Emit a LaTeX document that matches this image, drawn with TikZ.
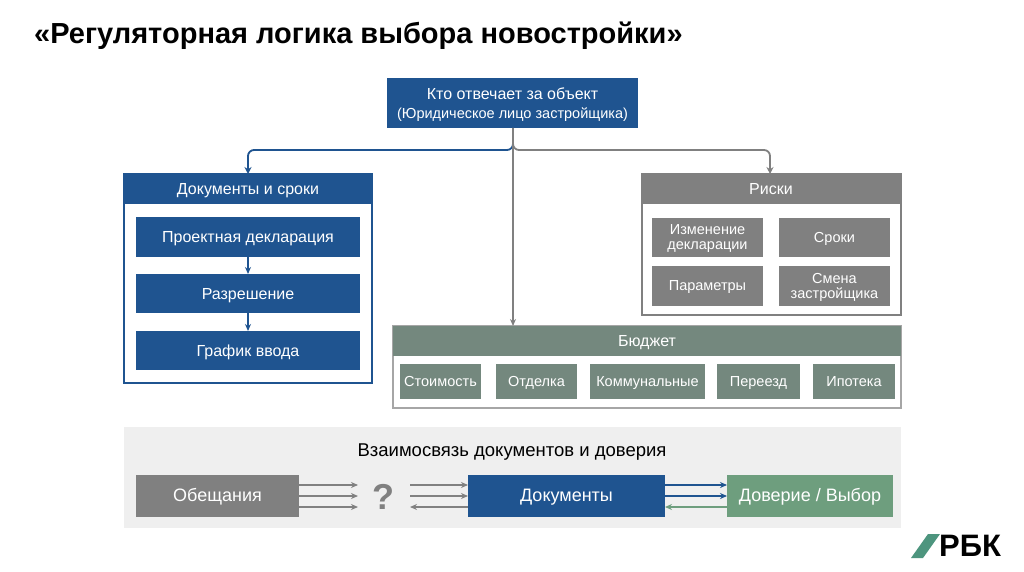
\documentclass[tikz,border=0pt]{standalone}
\usepackage{fontspec}
\setmainfont{Liberation Sans}
\usetikzlibrary{arrows.meta}
\definecolor{dblue}{HTML}{1F5490}
\definecolor{gr}{HTML}{808080}
\definecolor{bud}{HTML}{74887E}
\definecolor{grn}{HTML}{6E9E7E}
\definecolor{lbg}{HTML}{EFEFEF}
\begin{document}
\begin{tikzpicture}[x=1pt,y=-1pt,
 box/.style={draw=none,text=white,align=center,inner sep=0,yshift=-1.5pt,font=\fontsize{16}{18}\selectfont},
 sbox/.style={box,font=\fontsize{14.5}{15}\selectfont},
 arr/.style={-{Stealth[length=7pt,width=7pt]},line width=1.8pt},
 thin/.style={-{Stealth[length=7pt,width=6pt]},line width=1.5pt}]
\useasboundingbox (0,0) rectangle (1024,572);
\fill[white] (0,0) rectangle (1024,572);
\node[anchor=west,inner sep=0,font=\bfseries\fontsize{29}{32}\selectfont] (title) at (34,36) {«Регуляторная логика выбора новостройки»};
% top
\fill[dblue] (387,78) rectangle (638,128);
\node[box] (top) at (512.5,103) {Кто отвечает за объект\\[1pt]{\fontsize{14.5}{15}\selectfont(Юридическое лицо застройщика)}};
\coordinate (tb) at (513,128);
% documents panel
\draw[dblue,line width=1.6pt,fill=white] (124,174) rectangle (372,383);
\fill[dblue] (124,174) rectangle (372,204);
\node[box] (docs) at (248,189) {\strut Документы и сроки};
\fill[dblue] (136,217) rectangle (360,257); \node[box] (d1) at (248,237) {\strut Проектная декларация};
\fill[dblue] (136,274) rectangle (360,313); \node[box] (d2) at (248,294) {\strut Разрешение};
\fill[dblue] (136,331) rectangle (360,370); \node[box] (d3) at (248,351) {\strut График ввода};
\draw[thin,dblue] (248,257) -- (248,274);
\draw[thin,dblue] (248,313) -- (248,331);
% risks
\draw[gr,line width=1.6pt,fill=white] (642,174) rectangle (901,315);
\fill[gr] (642,174) rectangle (901,204);
\node[box] (risk) at (771,189) {\strut Риски};
\fill[gr] (652,218) rectangle (763,257); \node[sbox] (r1) at (707.5,237.5) {Изменение\\[0pt]декларации};
\fill[gr] (779,218) rectangle (890,257); \node[sbox] (r2) at (834.5,237.5) {\strut Сроки};
\fill[gr] (652,266) rectangle (763,306); \node[sbox] (r3) at (707.5,286) {\strut Параметры};
\fill[gr] (779,266) rectangle (890,306); \node[sbox] (r4) at (834.5,286) {Смена\\[0pt]застройщика};
% budget
\draw[gr!70,line width=1.6pt,fill=white] (393,326) rectangle (901,408);
\fill[bud] (393,326) rectangle (901,356);
\node[box] (bud) at (647,341) {\strut Бюджет};
\foreach \a/\b/\t/\n in {400/481/Стоимость/b1,496/577/Отделка/b2,590/705/Коммунальные/b3,717/800/Переезд/b4,813/895/Ипотека/b5}{
 \fill[bud] (\a,364) rectangle (\b,399);
 \node[sbox] (\n) at ({(\a+\b)/2},381.5) {\strut\t};}
% connectors
\draw[arr,dblue,rounded corners=6pt] (tb) -- (513,150) -- (248,150) -- (248,174);
\draw[arr,gr,rounded corners=6pt] (tb) -- (513,150) -- (770,150) -- (770,174);
\draw[thin,gr] (tb) -- (513,326);
% bottom
\fill[lbg] (124,427) rectangle (901,528);
\node[inner sep=0,yshift=-1.5pt,font=\fontsize{18.5}{20}\selectfont] (bt) at (512,451) {\strut Взаимосвязь документов и доверия};
\fill[gr] (136,475) rectangle (299,517); \node[box,font=\fontsize{18}{20}\selectfont] (pr) at (217.5,496) {\strut Обещания};
\fill[dblue] (468,475) rectangle (665,517); \node[box,font=\fontsize{18}{20}\selectfont] (dc) at (566.5,496) {\strut Документы};
\fill[grn] (727,475) rectangle (893,517); \node[box,font=\fontsize{18}{20}\selectfont] (tr) at (810,496) {\strut Доверие / Выбор};
\node[text=gr,font=\bfseries\fontsize{36}{38}\selectfont] (q) at (383,497) {?};
\foreach \y in {485,496,507} \draw[thin,gr] (299,\y) -- (358,\y);
\foreach \y in {485,496} \draw[thin,gr] (410,\y) -- (468,\y);
\draw[thin,gr] (468,507) -- (410,507);
\foreach \y in {485,496} \draw[thin,dblue,line width=2pt] (665,\y) -- (727,\y);
\draw[thin,grn] (727,507) -- (665,507);
% logo
\fill[grn!70!teal] (911,558) -- (928,534) -- (940,534) -- (923,558) -- cycle;
\node[anchor=west,font=\bfseries\fontsize{31}{33}\selectfont,inner sep=0] (logo) at (939,546) {РБК};
\end{tikzpicture}
\end{document}
